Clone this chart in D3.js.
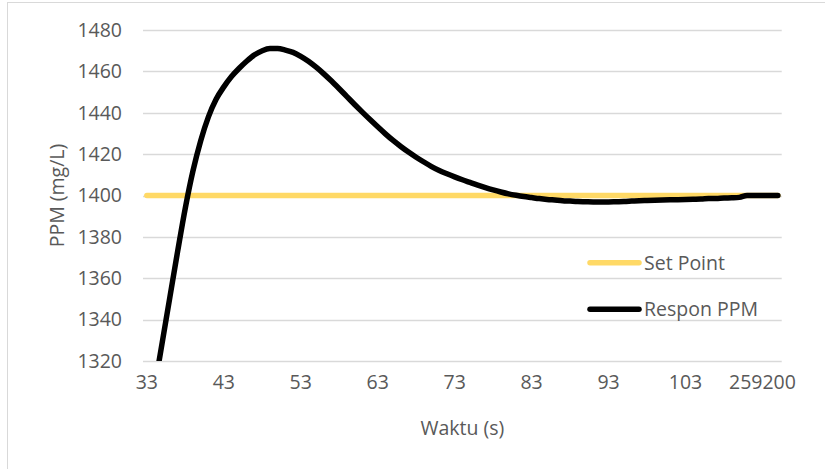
<!DOCTYPE html>
<html>
<head>
<meta charset="utf-8">
<script src="https://cdn.jsdelivr.net/npm/d3@7"></script>
<style>
  html, body { margin: 0; padding: 0; background: #fff; }
  svg { display: block; }
  text { font-family: "Open Sans", "Noto Sans", sans-serif; fill: #595959; }
</style>
</head>
<body>
<svg id="chart" width="825" height="469"></svg>
<script>
// Time stamps (s) for each sample
const waktu = [
  33, 34, 35, 36, 37, 38, 39, 40, 41, 42,
  43, 44, 45, 46, 47, 48, 49, 50, 51, 52,
  53, 54, 55, 56, 57, 58, 59, 60, 61, 62,
  63, 64, 65, 66, 67, 68, 69, 70, 71, 72,
  73, 74, 75, 76, 77, 78, 79, 80, 81, 82,
  83, 84, 85, 86, 87, 88, 89, 90, 91, 92,
  93, 94, 95, 96, 97, 98, 99, 100, 101, 102,
  103, 104, 105, 106, 107, 108, 109, 110,
  259198, 259199, 259200, 259201, 259202
];

// Measured PPM response (mg/L)
const responPPM = [
  1285, 1307, 1329, 1351, 1373, 1394, 1412, 1426.5, 1438, 1446.5,
  1452.5, 1457.5, 1461.5, 1465, 1468, 1470, 1471, 1471, 1470.3, 1469.2,
  1467.3, 1464.9, 1462, 1458.8, 1455.3, 1451.6, 1447.8, 1444, 1440.3, 1436.7,
  1433.2, 1429.8, 1426.6, 1423.7, 1421, 1418.5, 1416.2, 1414, 1412.1, 1410.5,
  1409, 1407.6, 1406.3, 1405, 1403.8, 1402.7, 1401.7, 1400.8, 1400.1, 1399.5,
  1399, 1398.5, 1398.1, 1397.8, 1397.5, 1397.3, 1397.1, 1397, 1396.9, 1396.9,
  1396.9, 1397, 1397.1, 1397.3, 1397.5, 1397.6, 1397.7, 1397.8, 1397.9, 1398,
  1398.1, 1398.2, 1398.3, 1398.5, 1398.6, 1398.8, 1398.9, 1399.1,
  1400, 1400, 1400, 1400, 1400
];

// Target set point (mg/L)
const setPoint = [
  1400, 1400, 1400, 1400, 1400, 1400, 1400, 1400, 1400, 1400,
  1400, 1400, 1400, 1400, 1400, 1400, 1400, 1400, 1400, 1400,
  1400, 1400, 1400, 1400, 1400, 1400, 1400, 1400, 1400, 1400,
  1400, 1400, 1400, 1400, 1400, 1400, 1400, 1400, 1400, 1400,
  1400, 1400, 1400, 1400, 1400, 1400, 1400, 1400, 1400, 1400,
  1400, 1400, 1400, 1400, 1400, 1400, 1400, 1400, 1400, 1400,
  1400, 1400, 1400, 1400, 1400, 1400, 1400, 1400, 1400, 1400,
  1400, 1400, 1400, 1400, 1400, 1400, 1400, 1400,
  1400, 1400, 1400, 1400, 1400
];

const yTicks = [1320, 1340, 1360, 1380, 1400, 1420, 1440, 1460, 1480];
const seriesNames = ["Set Point", "Respon PPM"];
const seriesColors = ["#FFD966", "#000000"];

const svg = d3.select("#chart");
const plot = { left: 143, right: 781.7, top: 30, bottom: 361 };

// Chart frame
svg.append("rect")
  .attr("x", 7.5).attr("y", 2.5)
  .attr("width", 840).attr("height", 490)
  .attr("fill", "#fff")
  .attr("stroke", "#d9d9d9").attr("stroke-width", 1);

const x = d3.scaleBand()
  .domain(waktu.map(String))
  .range([plot.left, plot.right])
  .padding(0);
const xc = i => x(String(waktu[i])) + x.bandwidth() / 2;

const y = d3.scaleLinear()
  .domain([1320, 1480])
  .range([plot.bottom, plot.top]);

// Horizontal gridlines
svg.append("g")
  .selectAll("line")
  .data(yTicks)
  .join("line")
  .attr("x1", plot.left).attr("x2", plot.right)
  .attr("y1", d => Math.round(y(d)) + 0.5).attr("y2", d => Math.round(y(d)) + 0.5)
  .attr("stroke", "#d9d9d9").attr("stroke-width", 1.3);

// Y axis labels
const yAxis = svg.append("g")
  .attr("transform", `translate(${plot.left},0)`)
  .call(d3.axisLeft(y).tickValues(yTicks).tickSize(0).tickPadding(21).tickFormat(d3.format("d")));
yAxis.select(".domain").remove();
yAxis.selectAll("text")
  .attr("font-family", "'Open Sans', sans-serif")
  .attr("font-size", 19.5).attr("fill", "#595959");

// X axis labels (every 10th category)
const xAxis = svg.append("g")
  .attr("transform", `translate(0,${plot.bottom})`)
  .call(d3.axisBottom(x)
    .tickValues(waktu.filter((d, i) => i % 10 === 0).map(String))
    .tickSize(0).tickPadding(14));
xAxis.select(".domain").remove();
xAxis.selectAll("text")
  .attr("font-family", "'Open Sans', sans-serif")
  .attr("font-size", 19.5).attr("fill", "#595959");

// Axis titles
svg.append("text")
  .attr("x", (plot.left + plot.right) / 2).attr("y", 435)
  .attr("text-anchor", "middle")
  .attr("font-size", 19.5)
  .text("Waktu (s)");

svg.append("text")
  .attr("transform", `translate(64,${(plot.top + plot.bottom) / 2}) rotate(-90)`)
  .attr("text-anchor", "middle")
  .attr("font-size", 19.5)
  .text("PPM (mg/L)");

// Clip region for the series
svg.append("clipPath").attr("id", "plotClip")
  .append("rect")
  .attr("x", plot.left - 10).attr("y", plot.top - 10)
  .attr("width", plot.right - plot.left + 20)
  .attr("height", plot.bottom - plot.top + 10);

const line = d3.line()
  .x((d, i) => xc(i))
  .y(d => y(d))
  .curve(d3.curveMonotoneX);

const series = svg.append("g").attr("clip-path", "url(#plotClip)");

series.append("path")
  .datum(setPoint)
  .attr("d", line)
  .attr("fill", "none")
  .attr("stroke", seriesColors[0])
  .attr("stroke-width", 5.5)
  .attr("stroke-linecap", "round")
  .attr("stroke-linejoin", "round");

series.append("path")
  .datum(responPPM)
  .attr("d", line)
  .attr("fill", "none")
  .attr("stroke", seriesColors[1])
  .attr("stroke-width", 5.5)
  .attr("stroke-linecap", "round")
  .attr("stroke-linejoin", "round");

// Legend
const legendRows = [262.7, 309.3];
const legend = svg.append("g");
seriesNames.forEach((name, k) => {
  legend.append("line")
    .attr("x1", 590).attr("x2", 639)
    .attr("y1", legendRows[k]).attr("y2", legendRows[k])
    .attr("stroke", seriesColors[k])
    .attr("stroke-width", 5.5)
    .attr("stroke-linecap", "round");
  legend.append("text")
    .attr("x", 644).attr("y", legendRows[k])
    .attr("dy", "0.35em")
    .attr("font-size", 19.5)
    .text(name);
});
</script>
</body>
</html>
